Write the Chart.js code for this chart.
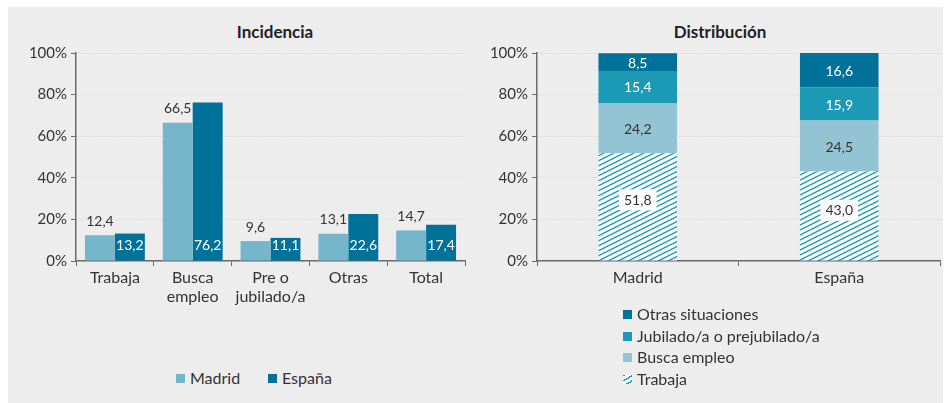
<!DOCTYPE html>
<html>
<head>
<meta charset="utf-8">
<script src="https://cdn.jsdelivr.net/npm/chart.js@4.4.0/dist/chart.umd.min.js"></script>
<style>
  body { margin: 0; background: #fff; font-family: Lato, sans-serif; color: #333; }
  #panel { position: absolute; left: 8px; top: 7px; width: 935px; height: 396px; background: #ededed; }
  .cv { position: absolute; }
  .title { position: absolute; top: 21px; font-weight: bold; font-size: 17px; color: #222; transform: translateX(-50%); white-space: nowrap; }
  .leg { position: absolute; font-size: 16px; color: #333; white-space: nowrap; line-height: 20px; }
  .sw { display: inline-block; width: 9px; height: 9px; margin-right: 5px; vertical-align: 1px; }
  .hatch { background: repeating-linear-gradient(-30deg, #fff 0 2px, #1a9bb5 2px 3.3px, #fff 3.3px 4.5px); }
</style>
</head>
<body>
<div id="panel"></div>
<div class="title" style="left:275px">Incidencia</div>
<div class="title" style="left:720px">Distribución</div>
<div class="cv" style="left:8px;top:40px;width:460px;height:266px"><canvas id="incidencia"></canvas></div>
<div class="cv" style="left:470px;top:40px;width:472px;height:266px"><canvas id="distribucion"></canvas></div>

<div class="leg" style="left:176px;top:368px"><span class="sw" style="background:#76b6ca"></span>Madrid</div>
<div class="leg" style="left:268px;top:368px"><span class="sw" style="background:#00729a"></span>España</div>

<div class="leg" style="left:623px;top:304px"><span class="sw" style="background:#00729a"></span>Otras situaciones</div>
<div class="leg" style="left:623px;top:326px"><span class="sw" style="background:#1b99b5"></span>Jubilado/a o prejubilado/a</div>
<div class="leg" style="left:623px;top:347px"><span class="sw" style="background:#93c4d4"></span>Busca empleo</div>
<div class="leg" style="left:623px;top:369px"><span class="sw hatch"></span>Trabaja</div>

<script>
// Incidencia
const situaciones = [["Trabaja"], ["Busca", "empleo"], ["Pre o", "jubilado/a"], ["Otras"], ["Total"]];
const madridIncidencia = [12.4, 66.5, 9.6, 13.1, 14.7];
const espanaIncidencia = [13.2, 76.2, 11.1, 22.6, 17.4];

// Distribución
const territorios = ["Madrid", "España"];
const trabaja = [51.8, 43.0];
const buscaEmpleo = [24.2, 24.5];
const jubilado = [15.4, 15.9];
const otrasSituaciones = [8.5, 16.6];

const yTicks = [0, 20, 40, 60, 80, 100];

const TEXT = "#333";
const AXIS = "#6b6b6b";

function fmt(v) {
  return v.toFixed(1).replace(".", ",");
}

function hatchPattern() {
  const c = document.createElement("canvas");
  c.width = 10; c.height = 5;
  const g = c.getContext("2d");
  g.fillStyle = "#fff";
  g.fillRect(0, 0, 10, 5);
  g.strokeStyle = "#1a9bb5";
  g.lineWidth = 1.4;
  [-5, 0, 5].forEach(o => {
    g.beginPath();
    g.moveTo(0, 5 + o);
    g.lineTo(10, 0 + o);
    g.stroke();
  });
  return g.createPattern(c, "repeat");
}

// draws value labels for each dataset, style per dataset
const valueLabels = {
  id: "valueLabels",
  afterDatasetsDraw(chart, args, opts) {
    const ctx = chart.ctx;
    ctx.save();
    ctx.font = "14px Lato";
    ctx.textAlign = "center";
    ctx.textBaseline = "middle";
    chart.data.datasets.forEach((ds, i) => {
      const st = opts.styles[i];
      chart.getDatasetMeta(i).data.forEach((bar, j) => {
        const txt = fmt(ds.data[j]);
        let y;
        if (st.pos === "top") y = bar.y - 15;
        else if (st.pos === "base") y = bar.base - 16;
        else y = bar.base + (bar.y - bar.base) * (st.frac || 0.5);
        if (st.box) {
          const w = ctx.measureText(txt).width + 10;
          ctx.fillStyle = "#fff";
          ctx.fillRect(bar.x - w / 2, y - 10, w, 21);
        }
        ctx.fillStyle = st.color;
        ctx.fillText(txt, bar.x, y + 1);
      });
    });
    ctx.restore();
  }
};

function yScale(width) {
  return {
    min: 0,
    max: 100,
    afterBuildTicks: s => { s.ticks = yTicks.map(v => ({ value: v })); },
    afterFit: s => { s.width = width; },
    ticks: {
      color: TEXT,
      font: { family: "Lato", size: 15 },
      padding: 4,
      callback: v => v + "%"
    },
    grid: {
      color: "#d2d2d2",
      tickColor: AXIS,
      tickLength: 5,
      tickBorderDash: []
    },
    border: { color: AXIS, width: 1.5, dash: [1, 2] }
  };
}

function xScale(stacked) {
  return {
    stacked: stacked,
    afterFit: s => { s.height = 45; },
    ticks: {
      color: TEXT,
      font: { family: "Lato", size: 16 },
      padding: 2,
      maxRotation: 0
    },
    grid: {
      display: true,
      drawOnChartArea: false,
      tickColor: AXIS,
      tickLength: 5
    },
    border: { color: AXIS, width: 1.5 }
  };
}

Chart.defaults.font.family = "Lato";

new Chart(document.getElementById("incidencia"), {
  type: "bar",
  data: {
    labels: situaciones,
    datasets: [{
      label: "Madrid",
      data: madridIncidencia,
      backgroundColor: "#76b6ca",
      barPercentage: 1,
      categoryPercentage: 0.77
    }, {
      label: "España",
      data: espanaIncidencia,
      backgroundColor: "#00729a",
      barPercentage: 1,
      categoryPercentage: 0.77
    }]
  },
  options: {
    responsive: true,
    maintainAspectRatio: false,
    animation: false,
    layout: { padding: { top: 12, right: 3, bottom: 0, left: 0 } },
    plugins: {
      legend: { display: false },
      tooltip: { enabled: false },
      valueLabels: {
        styles: [
          { pos: "top", color: TEXT },
          { pos: "base", color: "#fff" }
        ]
      }
    },
    scales: { x: xScale(false), y: yScale(68) }
  },
  plugins: [valueLabels]
});

new Chart(document.getElementById("distribucion"), {
  type: "bar",
  data: {
    labels: territorios,
    datasets: [{
      label: "Trabaja",
      data: trabaja,
      backgroundColor: hatchPattern()
    }, {
      label: "Busca empleo",
      data: buscaEmpleo,
      backgroundColor: "#93c4d4"
    }, {
      label: "Jubilado/a o prejubilado/a",
      data: jubilado,
      backgroundColor: "#1b99b5"
    }, {
      label: "Otras situaciones",
      data: otrasSituaciones,
      backgroundColor: "#00729a"
    }]
  },
  options: {
    responsive: true,
    maintainAspectRatio: false,
    animation: false,
    datasets: { bar: { barPercentage: 0.39, categoryPercentage: 1 } },
    layout: { padding: { top: 12, right: 2, bottom: 0, left: 0 } },
    plugins: {
      legend: { display: false },
      tooltip: { enabled: false },
      valueLabels: {
        styles: [
          { pos: "mid", frac: 0.57, color: TEXT, box: true },
          { pos: "mid", color: TEXT },
          { pos: "mid", color: "#fff" },
          { pos: "mid", color: "#fff" }
        ]
      }
    },
    scales: { x: xScale(true), y: Object.assign(yScale(67), { stacked: true }) }
  },
  plugins: [valueLabels]
});
</script>
</body>
</html>
